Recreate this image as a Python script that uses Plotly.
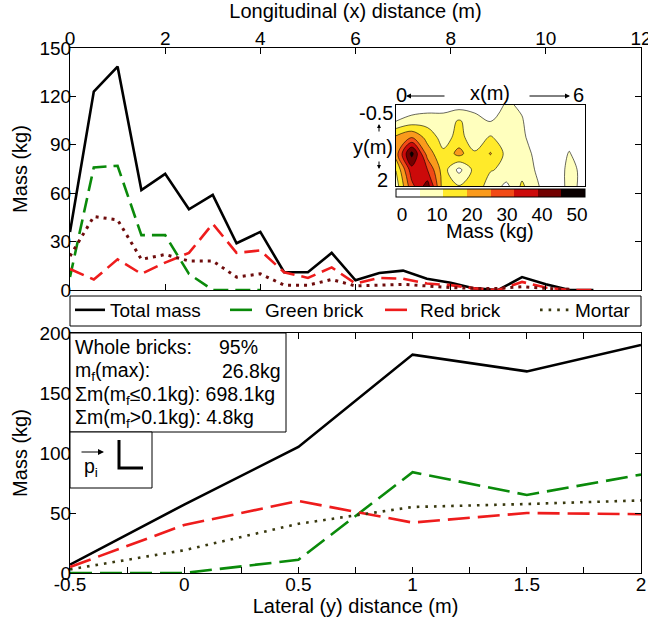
import plotly.graph_objects as go

W, H = 648, 624
FONT = "Arial, 'Liberation Sans', sans-serif"


def px(x):
    return x / W


def py(y):
    return 1 - y / H


# ---------------- data: longitudinal (top panel) ----------------
x_long = [0, 0.5, 1, 1.5, 2, 2.5, 3, 3.5, 4, 4.5, 5, 5.5, 6, 6.5, 7, 7.5,
          8, 8.5, 9, 9.5, 10, 10.5, 11]
total_long = [36, 123, 138.5, 62, 72, 50, 59, 29, 36, 11, 11, 23, 6, 10.5,
              12, 7, 4.5, 1, 0, 8, 3.5, 0, 0]
x_green_long = [0, 0.5, 1, 1.5, 2, 2.5, 3, 3.5, 4]
green_long = [8, 76, 77, 34, 34, 10, 0, 0, 0]
red_long = [13, 6.5, 19, 10, 17, 23, 41, 23, 24.5, 11, 7.5, 14, 4, 7.5, 7,
            4, 3, 1, 0, 5, 1.5, 0, 0]
x_mortar_long = [0, 0.5, 1, 1.5, 2, 2.5, 3, 3.5, 4, 4.5, 5, 5.5, 6, 6.5, 7,
                 7.5, 8, 8.5, 9, 9.5, 10, 10.5]
mortar_long = [21, 45.5, 43.5, 19, 22, 18, 18, 8, 10, 3, 3, 6.5, 2.5, 3,
               3.5, 2.5, 1.5, 1, 1, 2, 1, 0.5]

# ---------------- data: lateral (bottom panel) ----------------
y_lat = [-0.5, 0, 0.5, 1, 1.5, 2]
total_lat = [7, 57, 105, 182, 168, 190]
green_lat = [0, 0, 11, 84, 65, 82]
red_lat = [5, 40, 60, 42, 50, 49]
mortar_lat = [3, 19, 41, 55, 57.5, 60.5]
lat_tickvals = [-0.5, 0, 0.5, 1, 1.5, 2]
lat_ticktext = ["-0.5", "0", "0.5", "1", "1.5", "2"]

# ---------------- data: inset contour (mass per cell, kg) ----------------
grid_x = [0, 0.5, 1, 1.5, 2, 2.5, 3, 3.5, 4, 4.5, 5, 5.5, 6]
grid_y = [-0.5, 0, 0.5, 1, 1.5, 2]
grid_z = [
    [0, 0, 1, 2, 2, 2, 0, 6, 4, 0, 0, 0, 0],
    [5, 8, 9, 8, 12.5, 8, 4.5, 9, 5.5, 0, 0, 0, 0],
    [20, 25, 16, 9, 14, 8, 12.5, 8, 6, 2, 0, 2, 0],
    [22, 48, 22, 13, 21, 12.5, 19, 10, 8, 3, 0, 5.5, 0],
    [12, 36, 32, 15, 3, 14, 12, 11, 9, 4, 0, 7, 3],
    [8, 30, 42, 15, 12, 14, 10, 3, 13, 5.5, 0, 7, 3],
]
band_colors = ["#ffffff", "#ffffbe", "#ffea2a", "#fa9a1c", "#f24a16",
               "#cc0a0a", "#720000", "#0a0000"]
level_start, level_size = 5, 6.75
cbar_ticks = [0, 10, 20, 30, 40, 50]

# contour fill colour scale: band k centre lands at (k+0.5)/7
n = 7
cscale = []
edges = [0, 1 / n, 2 / n, 3 / n, 4 / n, 5 / n, 6 / n, 0.995, 1.0]
for k, c in enumerate(band_colors):
    cscale.append([edges[k], c])
    cscale.append([edges[k + 1], c])

# colour bar scale: 8 equal bands
bar_scale = []
for k, c in enumerate(band_colors):
    bar_scale.append([k / 8, c])
    bar_scale.append([(k + 1) / 8, c])

GREEN = "#0a8a0a"
RED = "#ee1c1c"
MAROON = "#6e0c0c"
OLIVE = "#38380e"
FS = 20
TFS = 19
BOXFS = 19.5

fig = go.Figure()

# top panel
fig.add_trace(go.Scatter(x=x_long, y=total_long, mode="lines", xaxis="x", yaxis="y",
                         line=dict(color="black", width=2.6), showlegend=False))
fig.add_trace(go.Scatter(x=x_green_long, y=green_long, mode="lines", xaxis="x", yaxis="y",
                         line=dict(color=GREEN, width=2.6, dash="15px,7px"), showlegend=False))
fig.add_trace(go.Scatter(x=x_long, y=red_long, mode="lines", xaxis="x", yaxis="y",
                         line=dict(color=RED, width=2.6, dash="15px,7px"), showlegend=False))
fig.add_trace(go.Scatter(x=x_mortar_long, y=mortar_long, mode="lines", xaxis="x", yaxis="y",
                         line=dict(color=MAROON, width=3, dash="3px,5px"), showlegend=False))

# bottom panel (also feeds the legend)
fig.add_trace(go.Scatter(x=y_lat, y=total_lat, mode="lines", xaxis="x2", yaxis="y2",
                         name="Total mass", line=dict(color="black", width=2.6)))
fig.add_trace(go.Scatter(x=y_lat, y=green_lat, mode="lines", xaxis="x2", yaxis="y2",
                         name="Green brick", line=dict(color=GREEN, width=2.6, dash="22px,8px")))
fig.add_trace(go.Scatter(x=y_lat, y=red_lat, mode="lines", xaxis="x2", yaxis="y2",
                         name="Red brick", line=dict(color=RED, width=2.6, dash="22px,8px")))
fig.add_trace(go.Scatter(x=y_lat, y=mortar_lat, mode="lines", xaxis="x2", yaxis="y2",
                         name="Mortar", line=dict(color=OLIVE, width=2.6, dash="2.6px,6px")))

# inset contour
fig.add_trace(go.Contour(
    x=grid_x, y=grid_y, z=grid_z, xaxis="x3", yaxis="y3",
    colorscale=cscale, showscale=False,
    contours=dict(start=level_start, end=level_start + 6 * level_size, size=level_size,
                  coloring="fill", showlines=True),
    line=dict(color="black", width=0.6),
    showlegend=False, hoverinfo="skip",
))

# colour bar (equal bands, same levels)
fig.add_trace(go.Scatter(
    x=[None], y=[None], mode="markers", xaxis="x3", yaxis="y3", showlegend=False,
    hoverinfo="skip",
    marker=dict(color=[0], colorscale=bar_scale, cmin=level_start - level_size,
                cmax=level_start + 7 * level_size, showscale=True,
                colorbar=dict(orientation="h", x=px(490.5), xanchor="center", y=py(189),
                              yanchor="top", len=189, lenmode="pixels", thickness=8,
                              thicknessmode="pixels", xpad=0, ypad=0, outlinecolor="black",
                              outlinewidth=1, tickvals=cbar_ticks, ticks="",
                              tickfont=dict(size=19, color="black", family=FONT))),
))

axis_common = dict(showline=True, linecolor="black", linewidth=1, mirror="ticks",
                   ticks="inside", ticklen=6, tickcolor="black", showgrid=False,
                   zeroline=False, ticklabelstandoff=-6, ticklabeloverflow="allow",
                   tickfont=dict(size=TFS, color="black", family=FONT))

top_dom_y = [py(290), py(48)]
bot_dom_y = [py(573), py(333)]
dom_x = [px(70), px(641)]

fig.update_layout(
    width=W, height=H, margin=dict(l=0, r=0, t=0, b=0, autoexpand=False),
    paper_bgcolor="white", plot_bgcolor="white",
    font=dict(family=FONT, size=FS, color="black"),
    xaxis=dict(domain=dom_x, anchor="y", range=[0, 12], dtick=2, side="top",
               title=dict(text="Longitudinal (x) distance (m)", standoff=5,
                          font=dict(size=FS, color="black")), **axis_common),
    yaxis=dict(domain=top_dom_y, anchor="x", range=[0, 150], dtick=30,
               title=dict(text="Mass (kg)", standoff=6, font=dict(size=FS, color="black")),
               **axis_common),
    xaxis2=dict(domain=dom_x, anchor="y2", range=[-0.5, 2], tickvals=lat_tickvals,
                ticktext=lat_ticktext,
                minor=dict(dtick=0.25, ticks="inside", ticklen=6, tickcolor="black"),
                title=dict(text="Lateral (y) distance (m)", standoff=2,
                           font=dict(size=FS, color="black")), **axis_common),
    yaxis2=dict(domain=bot_dom_y, anchor="x2", range=[0, 200], dtick=50,
                title=dict(text="Mass (kg)", standoff=6, font=dict(size=FS, color="black")),
                **axis_common),
    xaxis3=dict(domain=[px(396), px(585)], anchor="y3", range=[0, 6], showticklabels=False,
                ticks="", showline=True, mirror=True, linecolor="black", linewidth=1,
                showgrid=False, zeroline=False),
    yaxis3=dict(domain=[py(186), py(105)], anchor="x3", range=[2, -0.5], showticklabels=False,
                ticks="", showline=True, mirror=True, linecolor="black", linewidth=1,
                showgrid=False, zeroline=False),
    legend=dict(orientation="h", x=px(70), xanchor="left", y=py(291), yanchor="top",
                borderwidth=0, bgcolor="rgba(0,0,0,0)",
                font=dict(size=19, color="black", family=FONT),
                entrywidth=110, entrywidthmode="pixels", itemwidth=30,
                traceorder="normal", tracegroupgap=0),
)

# legend frame, text box and orientation key
shapes = [
    dict(type="rect", xref="paper", yref="paper", x0=px(70), x1=px(641), y0=py(326), y1=py(296),
         line=dict(color="black", width=1), fillcolor="white", layer="above"),
    dict(type="rect", xref="paper", yref="paper", x0=px(70), x1=px(286), y0=py(432), y1=py(333),
         line=dict(color="black", width=1), fillcolor="white", layer="above"),
    dict(type="rect", xref="paper", yref="paper", x0=px(70), x1=px(152), y0=py(488), y1=py(432),
         line=dict(color="black", width=1), fillcolor="white", layer="above"),
    dict(type="path", xref="paper", yref="paper",
         path=f"M {px(119)} {py(440)} L {px(119)} {py(468)} L {px(143)} {py(468)}",
         line=dict(color="black", width=3), layer="above"),
]
fig.update_layout(shapes=shapes)

ann = []


def txt(x, y, s, anchor="left", size=FS):
    ann.append(dict(xref="paper", yref="paper", x=px(x), y=py(y), text=s, showarrow=False,
                    xanchor=anchor, yanchor="middle", borderpad=0,
                    font=dict(size=size, color="black", family=FONT)))


txt(74, 347, "Whole bricks:", size=BOXFS)
txt(218, 347, "95%", size=BOXFS)
txt(74, 371, "m<sub>f</sub>(max):", size=BOXFS)
txt(221, 371, "26.8kg", size=BOXFS)
txt(74, 395, "Σm(m<sub>f</sub>≤0.1kg): 698.1kg", size=BOXFS)
txt(74, 419, "Σm(m<sub>f</sub>>0.1kg): 4.8kg", size=BOXFS)
txt(83, 467, "p<sub>i</sub>", size=BOXFS)
# arrow above p_i
ann.append(dict(xref="paper", yref="paper", x=px(104), y=py(452), ax=-24, ay=0, text="",
                showarrow=True, arrowhead=2, arrowsize=1, arrowwidth=1.2, arrowcolor="black"))

# inset labels
txt(401, 95, "0", anchor="center")
txt(578, 95, "6", anchor="center")
txt(490, 93, "x(m)", anchor="center")
ann.append(dict(xref="paper", yref="paper", x=px(406), y=py(96), ax=40, ay=0,
                text="", showarrow=True, arrowhead=2, arrowsize=1, arrowwidth=1, arrowcolor="black"))
ann.append(dict(xref="paper", yref="paper", x=px(570), y=py(96), ax=-42, ay=0,
                text="", showarrow=True, arrowhead=2, arrowsize=1, arrowwidth=1, arrowcolor="black"))
txt(394, 113, "-0.5", anchor="right")
txt(394, 147, "y(m)", anchor="right")
txt(389, 180, "2", anchor="right")
ann.append(dict(xref="paper", yref="paper", x=px(379), y=py(124), ax=0, ay=9,
                text="", showarrow=True, arrowhead=2, arrowsize=0.8, arrowwidth=1, arrowcolor="black"))
ann.append(dict(xref="paper", yref="paper", x=px(379), y=py(169), ax=0, ay=-9,
                text="", showarrow=True, arrowhead=2, arrowsize=0.8, arrowwidth=1, arrowcolor="black"))
txt(490, 231, "Mass (kg)", anchor="center")

fig.update_layout(annotations=ann)

fig.write_html("out.html")
